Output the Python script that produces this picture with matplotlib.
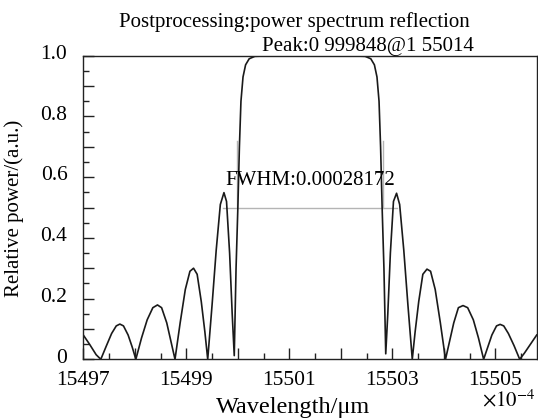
import matplotlib
matplotlib.use("Agg")
import matplotlib.pyplot as plt
from matplotlib.ticker import MultipleLocator

plt.rcParams['font.family'] = ['Liberation Serif', 'DejaVu Serif']
plt.rcParams['mathtext.fontset'] = 'stix'

# wavelength in units of 1e-4 um, relative reflected power
wavelength = [
    15497.00, 15497.12, 15497.25, 15497.34,
    15497.45, 15497.55, 15497.64, 15497.71, 15497.78, 15497.87, 15497.95, 15498.02,
    15498.13, 15498.24, 15498.35, 15498.44, 15498.52, 15498.62, 15498.70, 15498.78,
    15498.88, 15498.98, 15499.07, 15499.14, 15499.21, 15499.29, 15499.36, 15499.415,
    15499.50, 15499.58, 15499.66, 15499.73, 15499.78, 15499.84, 15499.89, 15499.93,
    15499.965, 15500.00, 15500.03, 15500.06, 15500.10, 15500.15, 15500.22, 15500.33,
    15500.60, 15501.40, 15502.20,
    15502.47, 15502.58, 15502.65, 15502.70, 15502.74, 15502.77, 15502.80, 15502.835, 15502.87,
    15502.91, 15502.96, 15503.02, 15503.08, 15503.14, 15503.22, 15503.30, 15503.385,
    15503.44, 15503.51, 15503.59, 15503.67, 15503.74, 15503.83, 15503.93, 15504.03,
    15504.11, 15504.19, 15504.28, 15504.37, 15504.46, 15504.57, 15504.67, 15504.77,
    15504.85, 15504.93, 15505.02, 15505.09, 15505.16, 15505.25, 15505.36, 15505.47,
    15505.56, 15505.68, 15505.80,
]
power = [
    0.080, 0.050, 0.015, 0.000,
    0.045, 0.085, 0.110, 0.116, 0.110, 0.080, 0.040, 0.000,
    0.070, 0.130, 0.170, 0.179, 0.170, 0.120, 0.060, 0.000,
    0.120, 0.230, 0.290, 0.300, 0.280, 0.190, 0.090, 0.000,
    0.180, 0.360, 0.510, 0.549, 0.520, 0.350, 0.150, 0.012,
    0.300, 0.500, 0.700, 0.850, 0.930, 0.970, 0.990, 0.998,
    0.9995, 0.99985, 0.9995,
    0.998, 0.990, 0.970, 0.930, 0.850, 0.700, 0.500, 0.300, 0.018,
    0.150, 0.350, 0.520, 0.547, 0.510, 0.360, 0.180, 0.000,
    0.090, 0.190, 0.280, 0.297, 0.290, 0.230, 0.120, 0.000,
    0.060, 0.120, 0.170, 0.177, 0.170, 0.130, 0.070, 0.000,
    0.040, 0.080, 0.110, 0.115, 0.110, 0.085, 0.045, 0.000,
    0.020, 0.050, 0.080,
]

# FWHM marker (half level and band edges)
half_level = 0.5
half_x = [15499.72, 15503.08]
band_edges = [15499.99, 15502.81]
xticks_labelled = [15497, 15499, 15501, 15503, 15505]
yticks_labelled = [0, 0.2, 0.4, 0.6, 0.8, 1.0]
ytick_text = ['0', '0.2', '0.4', '0.6', '0.8', '1.0']

fig = plt.figure(figsize=(5.38, 4.19), dpi=100)
ax = fig.add_axes([0.1548, 0.1425, 0.8428, 0.7245])

ax.plot(half_x, [half_level, half_level], color='#b4b4b4', lw=1.0)
for e in band_edges:
    ax.plot([e, e], [half_level, 0.72], color='#b4b4b4', lw=1.0)
ax.plot(wavelength, power, color='#1a1a1a', lw=1.2)

ax.set_xlim(15497, 15505.8)
ax.set_ylim(0, 1.0)

ax.xaxis.set_major_locator(MultipleLocator(1))
ax.xaxis.set_minor_locator(MultipleLocator(0.5))
ax.set_xticklabels([])
ax.yaxis.set_major_locator(MultipleLocator(0.1))
ax.yaxis.set_minor_locator(MultipleLocator(0.05))
ax.set_yticklabels([])
ax.tick_params(which='both', direction='in', top=False, right=False,
               width=1.0, color='#222222')
ax.tick_params(which='major', length=8)
ax.tick_params(which='minor', length=4)

for v in xticks_labelled:
    ax.text(v, -0.038, str(v), ha='center', va='top', fontsize=15.5)
for v, t in zip(yticks_labelled, ytick_text):
    ax.text(-0.035, v + 0.004, t, ha='right', va='center', fontsize=15.5,
            transform=ax.get_yaxis_transform())

for s in ax.spines.values():
    s.set_linewidth(1.0)
    s.set_color('#222222')

ax.text(15501.4, 0.575, 'FWHM:0.00028172', ha='center', va='baseline', fontsize=15)

fig.text(0.547, 0.935, 'Postprocessing:power spectrum reflection', ha='center',
         va='baseline', fontsize=15)
fig.text(0.684, 0.878, 'Peak:0 999848@1 55014', ha='center', va='baseline', fontsize=15)
fig.text(0.026, 0.503, 'Relative power/(a.u.)', rotation=90, ha='center', va='center',
         fontsize=15)
fig.text(0.545, 0.014, 'Wavelength/μm', ha='center', va='baseline', fontsize=17.5)
fig.text(0.996, 0.03, r'$\times10^{-4}$', ha='right', va='baseline', fontsize=15)

fig.savefig('out.png', dpi=100)
